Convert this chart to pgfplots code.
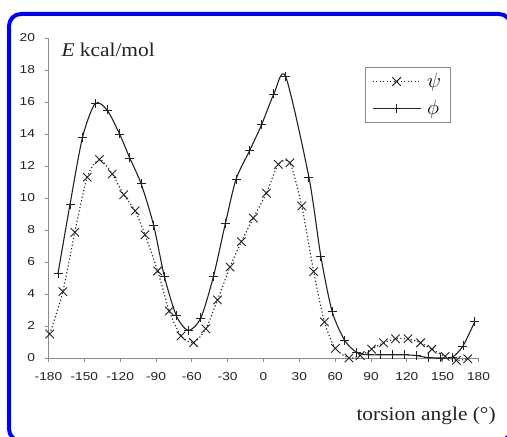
\documentclass[border=0pt]{standalone}
\usepackage{fontspec}
\usepackage{pgfplots}
\pgfplotsset{compat=1.18}
\setmainfont{Liberation Serif}[FakeStretch=1.1]
\newfontfamily\ticksf{Liberation Sans}[FakeStretch=1.2]
\definecolor{frameblue}{RGB}{0,0,255}
\definecolor{ink}{HTML}{222222}
\definecolor{axisgray}{HTML}{8A8A8A}

% phi: solid line with + marks
\pgfplotstableread{
x y
-172 5.3
-162 9.6
-151.5 13.8
-141 15.9
-131 15.5
-120.5 14.0
-112 12.5
-102.5 10.9
-92 8.3
-83 5.1
-73 2.65
-63 1.72
-52.5 2.5
-42 5.07
-32 8.38
-23 11.17
-11.5 12.98
-1.5 14.6
8.7 16.5
18.5 17.6
38 11.3
48 6.35
57.5 2.9
68 1.1
78 0.35
88 0.2
98 0.2
108 0.2
118 0.2
128 0.15
138 0.02
148 0.0
158 0.05
167 0.75
177 2.3
}\phidata

% psi: dotted line with x marks
\pgfplotstableread{
x y
-179 1.5
-168 4.15
-158 7.85
-147.6 11.3
-137.3 12.4
-126.7 11.5
-117 10.2
-107.5 9.2
-99.2 7.7
-88.6 5.44
-78.9 2.94
-69.1 1.38
-58.6 0.96
-48.3 1.83
-38.5 3.63
-28 5.69
-18.5 7.27
-8.5 8.75
2.4 10.3
12.4 12.1
22.1 12.2
32 9.5
42 5.4
51 2.25
60.2 0.6
71.5 0.0
81 0.15
90.5 0.55
100.5 0.95
110.5 1.2
121 1.2
131.5 0.95
141 0.55
152 0.1
161.5 -0.15
171 -0.05
}\psidata

\begin{document}
\begin{tikzpicture}[x=1bp,y=1bp]
\useasboundingbox (0,0) rectangle (507,437);
\begin{scope}
  \clip (0,0) rectangle (507,437);
  \draw[frameblue, line width=4bp, rounded corners=12bp] (9,423) rectangle (511,-4);
\end{scope}
\begin{axis}[
  at={(48.5bp,79bp)}, anchor=south west,
  scale only axis, width=430bp, height=320bp,
  xmin=-180, xmax=180, ymin=0, ymax=20, clip=false,
  axis lines=left, axis line style={-, axisgray, line width=0.9pt},
  tick align=outside, major tick length=4bp,
  tick style={axisgray, line width=0.8pt},
  xtick={-180,-150,...,180},
  xticklabels={{-180},{-150},{-120},{-90},{-60},{-30},{0},{30},{60},{90},{120},{150},{180}},
  ytick={0,2,...,20},
  /pgf/number format/assume math mode=true,
  tick label style={font=\ticksf\fontsize{11.5}{12}\selectfont, text=ink},
  xticklabel style={yshift=-7bp},
  yticklabel style={xshift=-6bp},
  legend style={at={(0.735,0.909)}, anchor=north west, draw=axisgray, line width=1pt,
    fill=white, inner xsep=7bp, inner ysep=4bp, row sep=7bp,
    font=\fontsize{20}{20}\selectfont, text=black},
  legend cell align=left,
  legend image code/.code={\draw[mark repeat=2,mark phase=2,#1] plot coordinates {(0bp,0bp) (24bp,0bp) (48bp,0bp)};},
]
\addplot[ink, line width=1.1pt, dash pattern=on 1.2bp off 2.3bp, smooth, tension=0.45, mark=x, mark size=6bp,
  mark options={solid, line width=0.9pt}] table[x=x,y=y] {\psidata};
\addlegendentry{\hspace{4bp}$\psi$}
\addplot[ink, line width=1.1pt, smooth, tension=0.45, mark=+, mark size=4.5bp,
  mark options={line width=0.9pt}] table[x=x,y=y] {\phidata};
\addlegendentry{\hspace{4bp}$\phi$}
\end{axis}
\node[anchor=base west, font=\fontsize{19.5}{20}\selectfont, text=ink] at (58bp,380bp) {\textit{E} kcal/mol};
\node[anchor=base west, font=\fontsize{19.5}{20}\selectfont, text=ink] at (353bp,16bp) {torsion angle (°)};
\end{tikzpicture}
\end{document}
